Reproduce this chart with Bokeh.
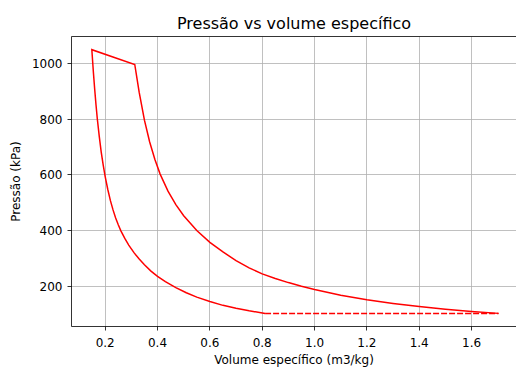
from bokeh.plotting import figure
from bokeh.models import Range1d, FixedTicker, LinearAxis
from bokeh.embed import file_html
from bokeh.resources import INLINE

# Compression curve (from end of dashed line up to top-left corner)
v_comp = [0.811, 0.75, 0.70, 0.65, 0.60, 0.55, 0.51, 0.47, 0.43, 0.40, 0.375, 0.35, 0.33, 0.31, 0.29,
          0.275, 0.26, 0.25, 0.24, 0.23, 0.22, 0.21, 0.20, 0.1925, 0.185, 0.1775, 0.17, 0.165, 0.16, 0.155, 0.149]
p_comp = [104.6, 114, 123, 133.5, 147, 163, 178.6, 197, 218, 237, 256, 278.5, 299, 322, 349,
          373, 400, 422, 446, 475, 508, 548, 594, 635, 681, 737, 800, 850, 905.6, 966.6, 1048]

# Expansion curve (from top-right corner down to the right end)
v_exp = [0.313, 0.33, 0.35, 0.37, 0.39, 0.41, 0.44, 0.47, 0.50, 0.55, 0.60, 0.65, 0.70, 0.75, 0.80,
         0.85, 0.90, 0.95, 1.00, 1.10, 1.20, 1.30, 1.40, 1.50, 1.60, 1.703]
p_exp = [995, 895, 796, 718, 655, 603, 542, 494, 454, 401, 359, 324.6, 293.7, 267.6, 246,
         229.5, 214.9, 201.9, 190.3, 170, 153.4, 140.3, 129.1, 119.9, 111.9, 104.8]

# Dashed constant-pressure line
v_dash = [0.811, 1.703]
p_dash = [104.7, 104.7]

x_ticks = [0.2, 0.4, 0.6, 0.8, 1.0, 1.2, 1.4, 1.6]
x_tick_labels = ["0.2", "0.4", "0.6", "0.8", "1.0", "1.2", "1.4", "1.6"]
y_ticks = [200, 400, 600, 800, 1000]
y_tick_labels = ["200", "400", "600", "800", "1000"]

FONT = "DejaVu Sans"

p = figure(width=516, height=369, output_backend="svg", toolbar_location=None,
           x_range=Range1d(0.0713, 1.7717), y_range=Range1d(57.85, 1095.15),
           min_border_left=71, min_border_right=0, min_border_top=36, min_border_bottom=43,
           title="Pressão vs volume específico")

p.title.text_font = FONT
p.title.text_font_size = "16px"
p.title.text_font_style = "normal"
p.title.align = "center"
p.title.text_color = "black"
p.title.standoff = 7
p.title.offset = 1.5

p.outline_line_color = None
p.background_fill_color = "white"
p.border_fill_color = "white"

# solid curve: compression + heat addition + expansion
v_solid = v_comp + v_exp
p_solid = p_comp + p_exp
p.line(v_solid, p_solid, line_color="red", line_width=1.5, line_join="miter")
p.line(v_dash, p_dash, line_color="red", line_width=1.5, line_dash="6 2")

for ax, ticks, labels in ((p.xaxis[0], x_ticks, x_tick_labels), (p.yaxis[0], y_ticks, y_tick_labels)):
    ax.ticker = FixedTicker(ticks=ticks)
    ax.major_label_overrides = {t: l for t, l in zip(ticks, labels)}
    ax.minor_tick_line_color = None
    ax.major_tick_out = 4
    ax.major_tick_in = 0
    ax.major_tick_line_width = 0.8
    ax.axis_line_width = 0.8
    ax.axis_line_color = "black"
    ax.major_label_text_font = FONT
    ax.major_label_text_font_size = "12px"
    ax.major_label_text_color = "black"
    ax.axis_label_text_font = FONT
    ax.axis_label_text_font_size = "12px"
    ax.axis_label_text_font_style = "normal"
    ax.axis_label_text_color = "black"

p.xaxis.axis_label = "Volume específico (m3/kg)"
p.yaxis.axis_label = "Pressão (kPa)"
p.xaxis.major_label_standoff = 7
p.yaxis.major_label_standoff = 5
p.xaxis.axis_label_standoff = 3
p.yaxis.axis_label_standoff = 6

# top spine
top = LinearAxis(ticker=FixedTicker(ticks=[]), major_label_text_font_size="0px",
                 major_tick_line_color=None, minor_tick_line_color=None,
                 axis_line_color="black", axis_line_width=0.8, major_label_standoff=0)
p.add_layout(top, "above")

p.xgrid.ticker = FixedTicker(ticks=x_ticks)
p.ygrid.ticker = FixedTicker(ticks=y_ticks)
p.grid.grid_line_color = "#b0b0b0"
p.grid.grid_line_width = 0.8

open("out.html", "w").write(file_html(p, INLINE))
